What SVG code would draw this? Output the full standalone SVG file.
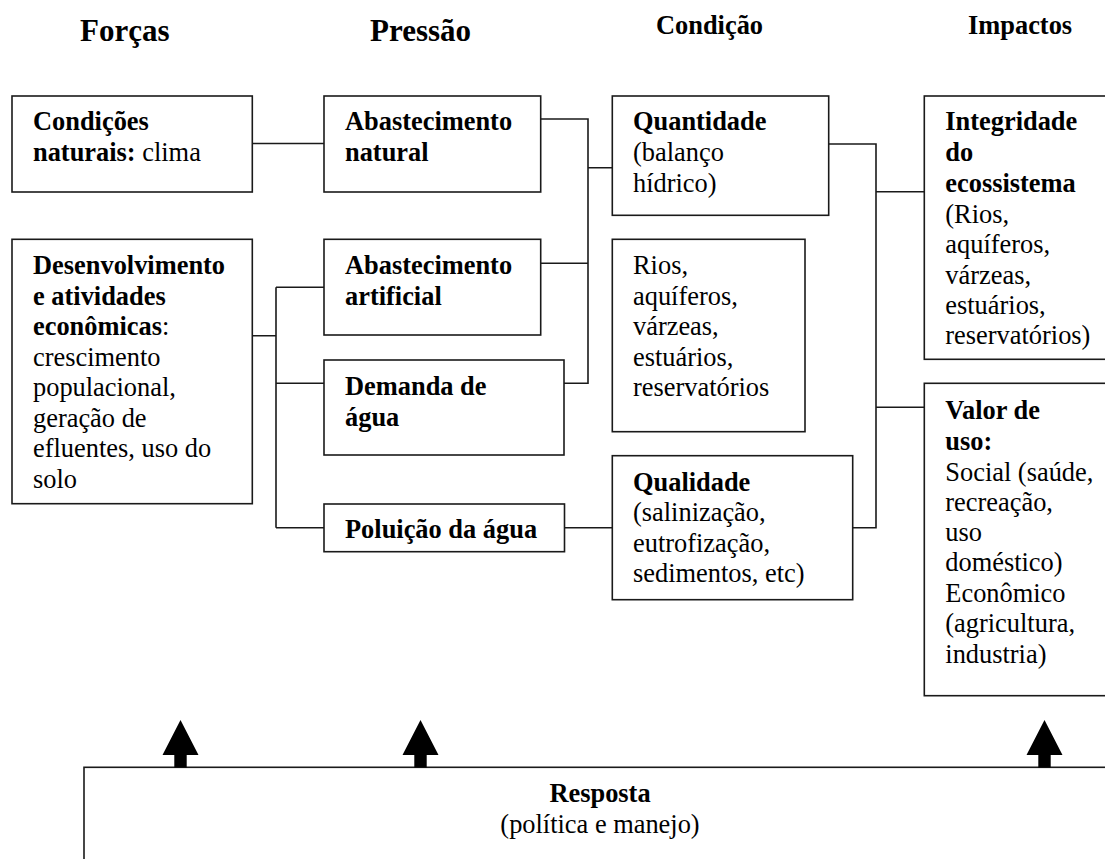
<svg xmlns="http://www.w3.org/2000/svg" xmlns:xlink="http://www.w3.org/1999/xlink" width="1105" height="859" viewBox="0 0 1105 859">
<style>
.bg{fill:#fff}
.box{fill:#fff;stroke:#1a1a1a;stroke-width:1.6}
.ln{fill:none;stroke:#1a1a1a;stroke-width:1.6}
.t{font-family:"Liberation Serif","Times New Roman",serif;font-size:26.4px;fill:#000}
.h1{font-family:"Liberation Serif","Times New Roman",serif;font-size:31px;font-weight:bold;fill:#000}
.h2{font-family:"Liberation Serif","Times New Roman",serif;font-size:26.4px;font-weight:bold;fill:#000}
.b{font-weight:bold}
.arr{fill:#000}
</style>
<defs>
<path id="up" d="M0 0 L18 35 L6.2 35 L6.2 47.5 L-6.2 47.5 L-6.2 35 L-18 35 Z"/>
</defs>
<rect class="bg" x="0" y="0" width="1105" height="859"/>

<g id="headers">
<text class="h1" x="80" y="41">Forças</text>
<text class="h1" x="370" y="41">Pressão</text>
<text class="h2" x="656" y="34">Condição</text>
<text class="h2" x="968" y="34">Impactos</text>
</g>

<g id="connectors">
<path class="ln" d="M252 143.5 H324"/>
<path class="ln" d="M252 335.7 H276 M276 287.3 V527.7 M276 287.3 H324 M276 383.3 H324 M276 527.7 H324"/>
<path class="ln" d="M540.7 119 H588 V383.3 H564 M540.7 263.3 H588 M588 167.7 H612.3"/>
<path class="ln" d="M564 527.7 H612.3"/>
<path class="ln" d="M828.7 144 H876 V527.7 H852.7 M876 191.7 H924.3 M876 407.3 H924.3"/>
</g>

<g id="n-condicoes">
<rect class="box" x="12" y="96" width="240.3" height="96"/>
<text class="t" x="33" y="130"><tspan class="b">Condições</tspan><tspan x="33" y="161"><tspan class="b">naturais:</tspan> clima</tspan></text>
</g>

<g id="n-desenvolvimento">
<rect class="box" x="12" y="239.3" width="240.3" height="264.4"/>
<text class="t" x="33" y="274"><tspan class="b">Desenvolvimento</tspan><tspan x="33" y="304.5" class="b">e atividades</tspan><tspan x="33" y="335"><tspan class="b">econômicas</tspan>:</tspan><tspan x="33" y="365.5">crescimento</tspan><tspan x="33" y="396">populacional,</tspan><tspan x="33" y="426.5">geração de</tspan><tspan x="33" y="457">efluentes, uso do</tspan><tspan x="33" y="487.5">solo</tspan></text>
</g>

<g id="n-abast-natural">
<rect class="box" x="324" y="96" width="216.7" height="96"/>
<text class="t b" x="345" y="130">Abastecimento<tspan x="345" y="161">natural</tspan></text>
</g>

<g id="n-abast-artificial">
<rect class="box" x="324" y="239.3" width="216.7" height="95.7"/>
<text class="t b" x="345" y="273.5">Abastecimento<tspan x="345" y="305">artificial</tspan></text>
</g>

<g id="n-demanda">
<rect class="box" x="324" y="360" width="240" height="95"/>
<text class="t b" x="345" y="395">Demanda de<tspan x="345" y="426">água</tspan></text>
</g>

<g id="n-poluicao">
<rect class="box" x="324" y="504" width="240.5" height="47.7"/>
<text class="t b" x="345" y="538.3">Poluição da água</text>
</g>

<g id="n-quantidade">
<rect class="box" x="612.3" y="96" width="216.4" height="119.3"/>
<text class="t" x="633" y="130"><tspan class="b">Quantidade</tspan><tspan x="633" y="161">(balanço</tspan><tspan x="633" y="191.5">hídrico)</tspan></text>
</g>

<g id="n-rios">
<rect class="box" x="612.3" y="239.3" width="192.7" height="192.4"/>
<text class="t" x="633" y="274">Rios,<tspan x="633" y="304.5">aquíferos,</tspan><tspan x="633" y="335">várzeas,</tspan><tspan x="633" y="365.5">estuários,</tspan><tspan x="633" y="396">reservatórios</tspan></text>
</g>

<g id="n-qualidade">
<rect class="box" x="612.3" y="455.7" width="240.4" height="144"/>
<text class="t" x="633" y="490.5"><tspan class="b">Qualidade</tspan><tspan x="633" y="521">(salinização,</tspan><tspan x="633" y="551.5">eutrofização,</tspan><tspan x="633" y="582">sedimentos, etc)</tspan></text>
</g>

<g id="n-integridade">
<rect class="box" x="924.3" y="96" width="300" height="263.3"/>
<text class="t" x="945.3" y="130"><tspan class="b">Integridade</tspan><tspan x="945.3" y="161" class="b">do</tspan><tspan x="945.3" y="191.5" class="b">ecossistema</tspan><tspan x="945.3" y="222.5">(Rios,</tspan><tspan x="945.3" y="253">aquíferos,</tspan><tspan x="945.3" y="283.5">várzeas,</tspan><tspan x="945.3" y="314">estuários,</tspan><tspan x="945.3" y="344">reservatórios)</tspan></text>
</g>

<g id="n-valor">
<rect class="box" x="924.3" y="383.3" width="300" height="312.4"/>
<text class="t" x="945.3" y="418.5"><tspan class="b">Valor de</tspan><tspan x="945.3" y="449.5" class="b">uso:</tspan><tspan x="945.3" y="480.5">Social (saúde,</tspan><tspan x="945.3" y="510.7">recreação,</tspan><tspan x="945.3" y="540.7">uso</tspan><tspan x="945.3" y="571">doméstico)</tspan><tspan x="945.3" y="601.5">Econômico</tspan><tspan x="945.3" y="632">(agricultura,</tspan><tspan x="945.3" y="662.5">industria)</tspan></text>
</g>

<g id="n-resposta">
<rect class="box" x="84" y="767.3" width="1100" height="200"/>
<text class="t" x="600" y="802.3" text-anchor="middle"><tspan class="b">Resposta</tspan><tspan x="600" y="833">(política e manejo)</tspan></text>
</g>

<g id="arrows">
<use xlink:href="#up" class="arr" x="180.5" y="720"/>
<use xlink:href="#up" class="arr" x="420.5" y="720"/>
<use xlink:href="#up" class="arr" x="1044.5" y="720"/>
</g>
</svg>
